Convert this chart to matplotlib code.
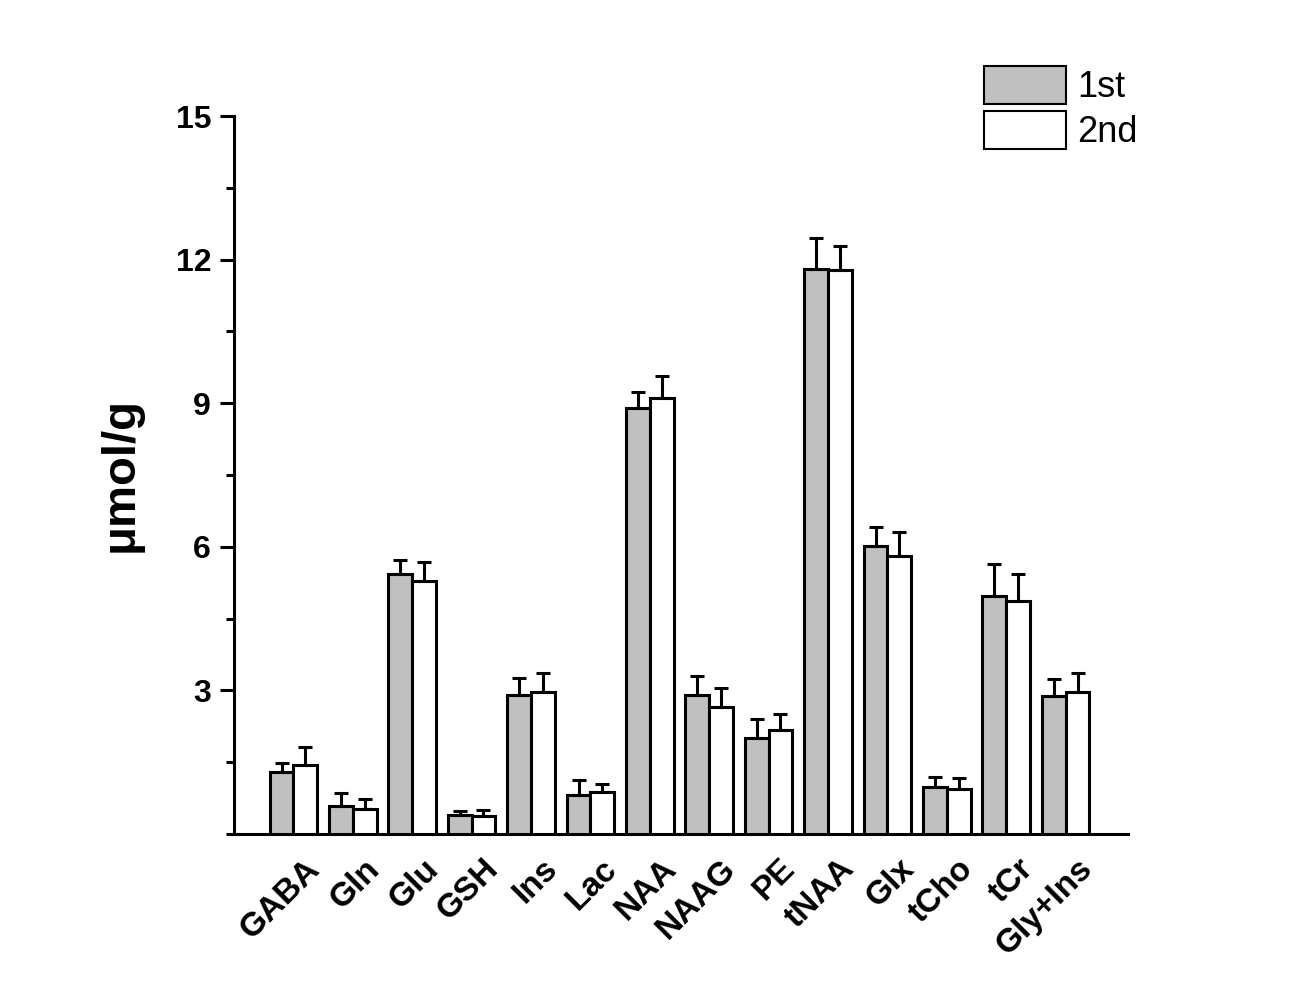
import matplotlib
matplotlib.use("Agg")
import matplotlib.pyplot as plt
from matplotlib.transforms import ScaledTranslation
from matplotlib.ticker import MultipleLocator
import numpy as np

categories = ["GABA", "Gln", "Glu", "GSH", "Ins", "Lac", "NAA", "NAAG", "PE",
              "tNAA", "Glx", "tCho", "tCr", "Gly+Ins"]
first_mean = [1.30, 0.59, 5.43, 0.39, 2.90, 0.82, 8.89, 2.90, 2.01, 11.80, 6.02, 0.99, 4.98, 2.89]
first_sd = [0.19, 0.26, 0.29, 0.10, 0.35, 0.30, 0.35, 0.41, 0.39, 0.66, 0.40, 0.21, 0.66, 0.35]
second_mean = [1.44, 0.52, 5.29, 0.37, 2.97, 0.87, 9.11, 2.65, 2.17, 11.78, 5.80, 0.95, 4.87, 2.97]
second_sd = [0.37, 0.21, 0.40, 0.14, 0.40, 0.18, 0.46, 0.41, 0.33, 0.50, 0.51, 0.22, 0.56, 0.39]
series_names = ["1st", "2nd"]
yticks = [3, 6, 9, 12, 15]

plt.rcParams['font.family'] = ['Liberation Sans', 'DejaVu Sans']

fig = plt.figure(figsize=(13.07, 10), dpi=100)
ax = fig.add_axes([234/1307, 1 - 834/1000, (1128-234)/1307, (834-116)/1000])

x = np.arange(1, len(categories) + 1)
w = 0.4
lw = 2.2
ekw = dict(elinewidth=lw, capthick=lw, ecolor='black')
n = len(categories)
ax.bar(x - w/2, first_mean, w, color='#C0C0C0', edgecolor='black', linewidth=lw,
       yerr=[[0]*n, first_sd], capsize=5.3, error_kw=ekw, label=series_names[0], zorder=3)
ax.bar(x + w/2, second_mean, w, color='white', edgecolor='black', linewidth=lw,
       yerr=[[0]*n, second_sd], capsize=5.3, error_kw=ekw, label=series_names[1], zorder=3)

ax.set_xlim(0, 15.05)
ax.set_ylim(0, 15)
ax.set_yticks(yticks)
ax.yaxis.set_minor_locator(MultipleLocator(1.5))
ax.tick_params(axis='y', which='major', direction='out', length=10, width=lw, pad=6.5,
               labelsize=23)
ax.tick_params(axis='y', which='minor', direction='out', length=5.5, width=lw)
for lab in ax.get_yticklabels():
    lab.set_fontweight('bold')

ax.set_xticks(x)
ax.set_xticklabels(categories, fontsize=24, fontweight='bold', rotation=45,
                   ha='right', va='center', rotation_mode='anchor')
ax.tick_params(axis='x', which='both', length=0, pad=0)
offset = ScaledTranslation(22/100, -30/100, fig.dpi_scale_trans)
for lab in ax.get_xticklabels():
    lab.set_transform(lab.get_transform() + offset)

for side in ['top', 'right']:
    ax.spines[side].set_visible(False)
for side in ['left', 'bottom']:
    ax.spines[side].set_linewidth(lw)

ax.set_ylabel("μmol/g", fontsize=34, fontweight='bold', labelpad=24)

leg = ax.legend(loc='upper left', bbox_to_anchor=(984/1307, 1 - 66/1000),
                bbox_transform=fig.transFigure, frameon=False, fontsize=26,
                borderpad=0, borderaxespad=0, handlelength=2.27, handleheight=1.25,
                labelspacing=0.15, handletextpad=0.3)
for p in leg.get_patches():
    p.set_linewidth(1.5)

fig.savefig("out.png", dpi=100)
